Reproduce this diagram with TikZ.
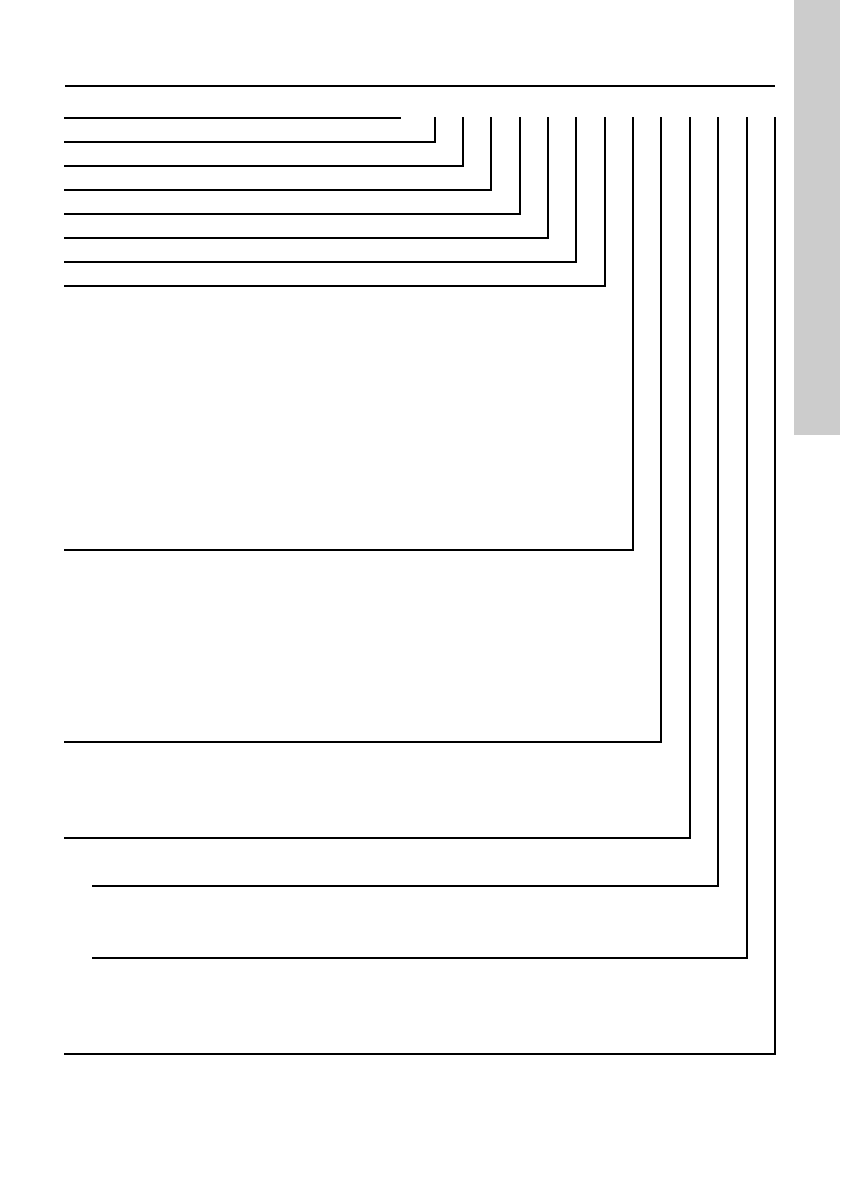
\documentclass[tikz,border=0pt]{standalone}
\begin{document}
\begin{tikzpicture}[x=1pt,y=-1pt,
  leader/.style={line width=1.2pt,line cap=rect},
  rule/.style={line width=2.6pt}]
\useasboundingbox (0,0) rectangle (840,1190);
\fill[white] (0,0) rectangle (840,1190);
% grey side tab
\fill[black!20] (794,0) rectangle (840,435);
% top rule
\draw[rule] (65,86) -- (775,86);
% first short line
\draw[leader] (65,118) -- (400,118);
% leader lines
\foreach \xx/\yy/\xs in {435/142/65,463/166/65,491/190/65,520/214/65,548/238/65,576/262/65,605/286/65,633/550/65,661/742/65,690/838/65,718/886/93,747/958/93,775/1054/65}{
  \draw[leader] (\xs,\yy) -- (\xx,\yy) -- (\xx,118);
}
\end{tikzpicture}
\end{document}
